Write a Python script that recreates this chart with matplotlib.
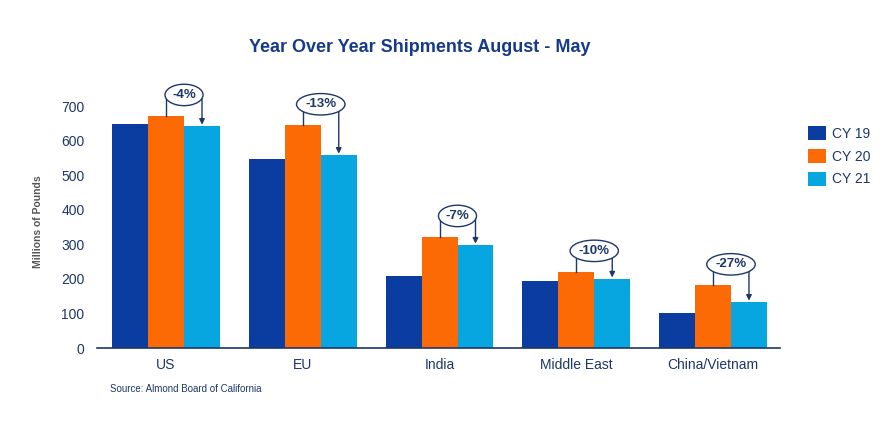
import numpy as np
import matplotlib.pyplot as plt

# ============================================================
# DATA (millions of pounds)
# ============================================================

regions = ["US", "EU", "India", "Middle East", "China/Vietnam"]
cy19 = [649, 547, 208, 195, 101]
cy20 = [672, 645, 322, 221, 182]
cy21 = [642, 558, 298, 200, 133]
changes = ["-4%", "-13%", "-7%", "-10%", "-27%"]
series_labels = ["CY 19", "CY 20", "CY 21"]
yticks = [0, 100, 200, 300, 400, 500, 600, 700]

# ============================================================
# STYLE
# ============================================================

NAVY = "#1d3768"
COLORS = ["#0a3d9f", "#fb6a04", "#07a6e1"]
plt.rcParams["font.family"] = ["Liberation Sans", "DejaVu Sans"]

fig = plt.figure(figsize=(8.95, 4.32), dpi=100)
ax = fig.add_axes([97 / 895, 1 - 348 / 432, (780 - 97) / 895, (348 - 106) / 432])

x = np.arange(len(regions))
width = 0.263
for i, (vals, color, label) in enumerate(zip([cy19, cy20, cy21], COLORS, series_labels)):
    ax.bar(x + (i - 1) * width, vals, width, color=color, label=label, zorder=2)

ax.set_xlim(-0.505, 4.49)
ax.set_ylim(0, 700)
ax.set_yticks(yticks)
ax.set_xticks(x)
ax.set_xticklabels(regions)
ax.tick_params(axis="both", length=0, labelsize=10, labelcolor=NAVY)
ax.tick_params(axis="x", pad=7)
ax.tick_params(axis="y", pad=9)
for side in ["left", "right", "top"]:
    ax.spines[side].set_visible(False)
ax.spines["bottom"].set_color(NAVY)
ax.spines["bottom"].set_linewidth(1.2)

# ============================================================
# CHANGE CALLOUTS: CY20 -> CY21
# ============================================================

offset = 60
for xi, top20, top21, txt in zip(x, cy20, cy21, changes):
    x20 = xi
    x21 = xi + width
    yc = top20 + offset
    ax.plot([x20, x20], [top20, yc], color=NAVY, lw=1, clip_on=False, zorder=3)
    ax.annotate("", xy=(x21, top21 + 4), xytext=(x21, yc),
                arrowprops=dict(arrowstyle="-|>", mutation_scale=8, color=NAVY,
                                lw=1, shrinkA=0, shrinkB=0),
                annotation_clip=False, zorder=3)
    ax.text((x20 + x21) / 2, yc, txt, ha="center", va="center", fontsize=9.5,
            fontweight="bold", color=NAVY, zorder=4,
            bbox=dict(boxstyle="ellipse,pad=0.12", fc="white", ec=NAVY, lw=1))

# ============================================================
# TEXT + LEGEND
# ============================================================

fig.text(420 / 895, 1 - 47 / 432, "Year Over Year Shipments August - May",
         ha="center", va="center", fontsize=13, fontweight="bold", color="#163a8a")
fig.text(38 / 895, 1 - 222 / 432, "Millions of Pounds", rotation=90,
         ha="center", va="center", fontsize=7.5, fontweight="bold", color="#555555")
fig.text(110 / 895, 1 - 389 / 432, "Source: Almond Board of California",
         ha="left", va="center", fontsize=7, color=NAVY)

ax.legend(loc="upper left", bbox_to_anchor=(808 / 895, 1 - 126 / 432),
          bbox_transform=fig.transFigure, frameon=False, fontsize=10,
          labelcolor=NAVY, handlelength=1.3, handleheight=1.15,
          handletextpad=0.45, labelspacing=0.6, borderpad=0, borderaxespad=0)

fig.savefig("out.png", dpi=100)
